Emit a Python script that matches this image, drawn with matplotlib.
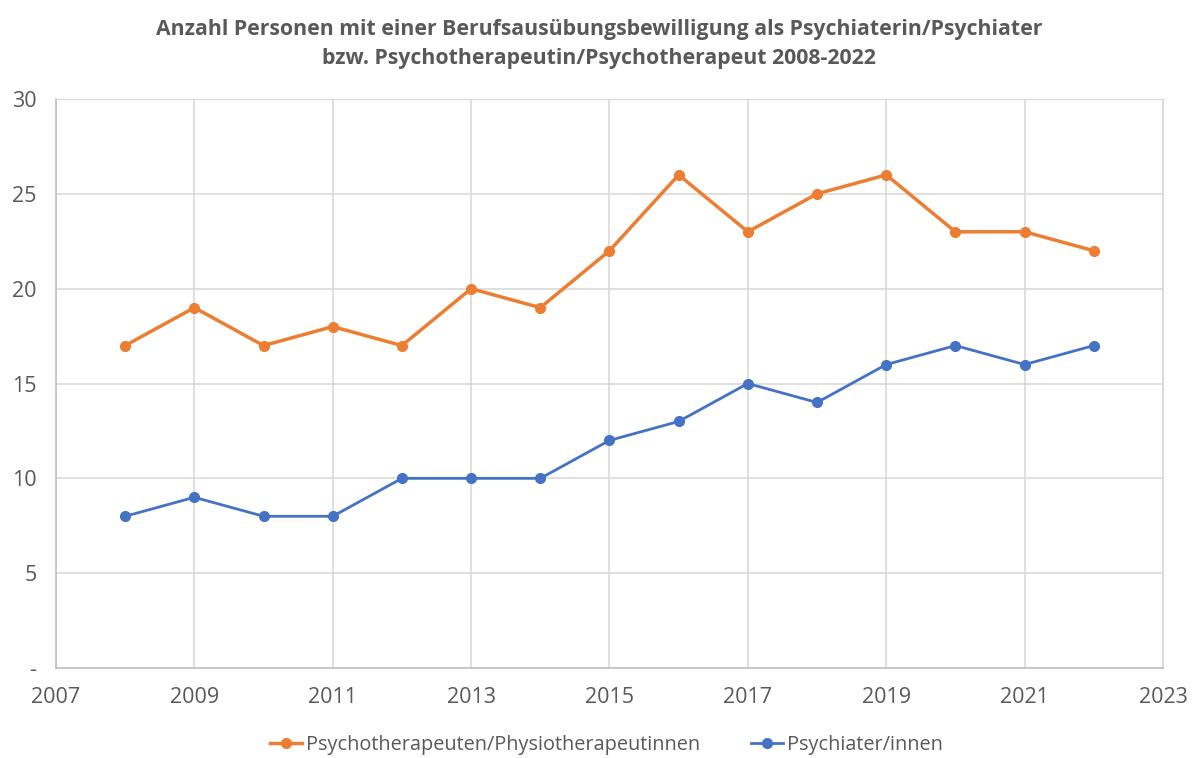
import matplotlib.pyplot as plt

plt.rcParams['font.family'] = ['Open Sans', 'DejaVu Sans']

years = [2008, 2009, 2010, 2011, 2012, 2013, 2014, 2015, 2016, 2017, 2018, 2019, 2020, 2021, 2022]
psychotherapeuten = [17, 19, 17, 18, 17, 20, 19, 22, 26, 23, 25, 26, 23, 23, 22]
psychiater = [8, 9, 8, 8, 10, 10, 10, 12, 13, 15, 14, 16, 17, 16, 17]

x_ticks = [2007, 2009, 2011, 2013, 2015, 2017, 2019, 2021, 2023]
y_ticks = [0, 5, 10, 15, 20, 25, 30]
y_labels = ['-', '5', '10', '15', '20', '25', '30']

orange = '#ED7D31'
blue = '#4472C4'
text_gray = '#595959'
grid_gray = '#D9D9D9'

fig = plt.figure(figsize=(11.94, 7.58), dpi=100)
ax = fig.add_axes([0.0469, 0.1187, 0.9271, 0.7507])

ax.plot(years, psychotherapeuten, color=orange, lw=2.5, marker='o', ms=7,
        label='Psychotherapeuten/Physiotherapeutinnen')
ax.plot(years, psychiater, color=blue, lw=2.0, marker='o', ms=7,
        label='Psychiater/innen')

ax.set_xlim(2007, 2023)
ax.set_ylim(0, 30)
ax.set_xticks(x_ticks)
ax.set_yticks(y_ticks)
ax.set_yticklabels(y_labels)
ax.grid(True, color=grid_gray, lw=1.2)
ax.set_axisbelow(True)
ax.tick_params(length=0, labelsize=15.5, colors=text_gray, pad=14)
ax.tick_params(axis='y', pad=14)
for side in ['top', 'right']:
    ax.spines[side].set_color(grid_gray)
for side in ['left', 'bottom']:
    ax.spines[side].set_color('#BFBFBF')
    ax.spines[side].set_linewidth(1.2)

fig.suptitle('Anzahl Personen mit einer Berufsausübungsbewilligung als Psychiaterin/Psychiater\n'
             'bzw. Psychotherapeutin/Psychotherapeut 2008-2022',
             x=0.502, y=0.975, fontsize=15.3, fontweight='bold', color=text_gray, linespacing=1.5)

leg = fig.legend(loc='lower center', bbox_to_anchor=(0.508, -0.02), ncol=2, frameon=False,
                 fontsize=14.3, handlelength=1.6, handletextpad=0.2, columnspacing=2.6)
for t in leg.get_texts():
    t.set_color(text_gray)

fig.savefig('out.png', dpi=100)
